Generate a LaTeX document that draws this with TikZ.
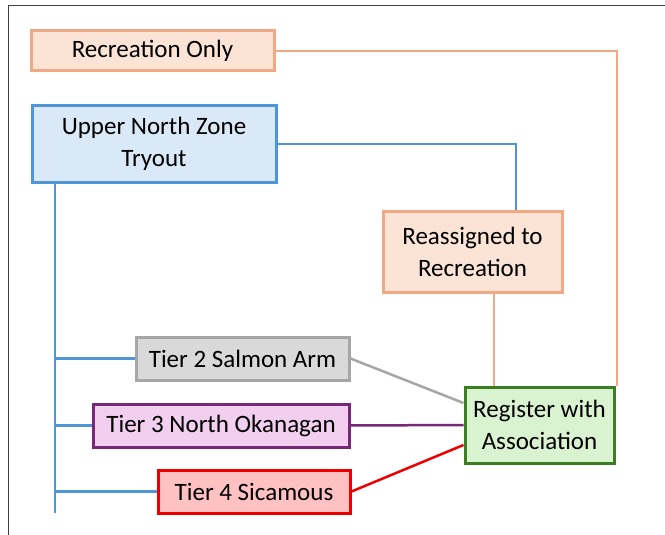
\documentclass[tikz,border=0pt]{standalone}
\usepackage{fontspec}
\setmainfont{Carlito}
\usepackage{tikz}

\definecolor{recline}{HTML}{F1A983}
\definecolor{recfill}{HTML}{FBE3D6}
\definecolor{zoneline}{HTML}{4E95D9}
\definecolor{zonefill}{HTML}{DAE9F8}
\definecolor{greyline}{HTML}{A6A6A6}
\definecolor{greyfill}{HTML}{D9D9D9}
\definecolor{purpline}{HTML}{782878}
\definecolor{purpfill}{HTML}{F2CEEF}
\definecolor{redline}{HTML}{EE0000}
\definecolor{redfill}{HTML}{FFC1C1}
\definecolor{greenline}{HTML}{3B7D23}
\definecolor{greenfill}{HTML}{D9F2D0}

\begin{document}
\begin{tikzpicture}[
    x=1pt, y=-1pt,
    box/.style={rectangle, line width=3pt, inner sep=0pt, align=center,
        font=\fontsize{25}{32}\selectfont},
    edge/.style={line width=2.5pt, -}
]
    \useasboundingbox (0,0) rectangle (665,535);
    \draw[line width=1pt, black!75] (8.5,535) -- (8.5,6) -- (665,6);

    \node[box, draw=recline, fill=recfill, minimum width=243pt, minimum height=40pt] (rec) at (152.5,51) {Recreation Only};
    \node[box, draw=zoneline, fill=zonefill, minimum width=244pt, minimum height=76pt] (upper) at (154,144) {Upper North Zone\\Tryout};
    \node[box, draw=recline, fill=recfill, minimum width=179pt, minimum height=81pt] (reassign) at (472.5,251.5) {Reassigned to\\Recreation};
    \node[box, draw=greyline, fill=greyfill, minimum width=213pt, minimum height=43pt] (tiertwo) at (242.5,358.5) {Tier 2 Salmon Arm};
    \node[box, draw=purpline, fill=purpfill, minimum width=256pt, minimum height=43pt] (tierthree) at (221,425.5) {Tier 3 North Okanagan};
    \node[box, draw=redline, fill=redfill, minimum width=192pt, minimum height=43pt] (tierfour) at (254,491.5) {Tier 4 Sicamous};
    \node[box, draw=greenline, fill=greenfill, minimum width=149pt, minimum height=76pt] (register) at (539.5,425) {Register with\\Association};

    \coordinate (trunk) at (55,182);
    \coordinate (trunkend) at (55,513);

    \draw[edge, recline, line width=2pt] (rec.east) -| ([xshift=1pt]register.north east);
    \draw[edge, zoneline] (upper.east) -| ([xshift=43.5pt]reassign.north);
    \draw[edge, recline, line width=2pt] ([xshift=21.5pt]reassign.south) -- ([xshift=21.5pt]reassign.south |- register.north);
    \draw[edge, zoneline] (trunk) -- (trunkend);
    \draw[edge, zoneline] (trunk |- tiertwo.west) -- (tiertwo.west);
    \draw[edge, zoneline] (trunk |- tierthree.west) -- (tierthree.west);
    \draw[edge, zoneline] (trunk |- tierfour.west) -- (tierfour.west);
    \draw[edge, greyline] (tiertwo.east) -- ([yshift=22pt]register.west);
    \draw[edge, purpline] (tierthree.east) -- (register.west);
    \draw[edge, redline] (tierfour.east) -- ([yshift=-20pt]register.west);
\end{tikzpicture}
\end{document}
